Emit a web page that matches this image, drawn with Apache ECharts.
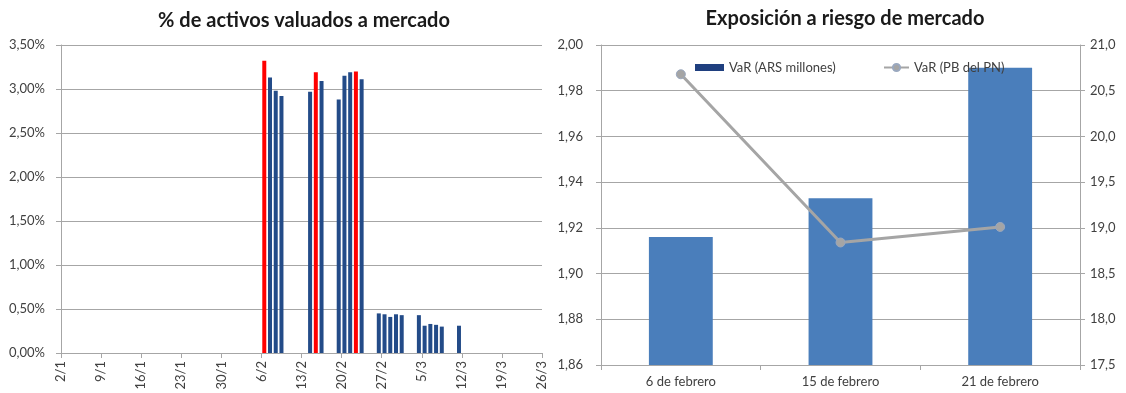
<!DOCTYPE html>
<html>
<head>
<meta charset="utf-8">
<script src="https://cdn.jsdelivr.net/npm/echarts@6/dist/echarts.min.js"></script>
<style>
  html, body { margin: 0; padding: 0; background: #fff; }
  #main { width: 1126px; height: 393px; }
</style>
</head>
<body>
<div id="main"></div>
<script>
// panel izquierdo: % de activos valuados a mercado (dias desde 2/1)
var startDate = new Date(2016, 0, 2);
var totalDays = 84;
var redDates = ['6/2', '15/2', '22/2'];
var redValues = [3.32, 3.19, 3.20];
var blueDates = ['7/2', '8/2', '9/2', '14/2', '16/2', '19/2', '20/2', '21/2', '23/2',
  '26/2', '27/2', '28/2', '29/2', '1/3', '4/3', '5/3', '6/3', '7/3', '8/3', '11/3'];
var blueValues = [3.13, 2.98, 2.92, 2.97, 3.09, 2.88, 3.15, 3.19, 3.11,
  0.45, 0.44, 0.41, 0.44, 0.43, 0.43, 0.31, 0.33, 0.32, 0.30, 0.31];

// panel derecho: exposicion a riesgo de mercado
var varCategories = ['6 de febrero', '15 de febrero', '21 de febrero'];
var varArs = [1.916, 1.933, 1.990];   // VaR (ARS millones)
var varPb = [20.68, 18.84, 19.01];    // VaR (PB del PN)

var FONT = 'Lato, "Liberation Sans", sans-serif';
var TXT = '#404040';
var GRID = '#A6A6A6';

// dia del eje -> indice desde 2/1 (las barras van entre marcas, como en Excel)
function dayIndex(s) {
  var p = s.split('/');
  var d = new Date(2016, parseInt(p[1], 10) - 1, parseInt(p[0], 10));
  return Math.round((d - startDate) / 864e5);
}
function toPairs(dates, values) {
  var out = [];
  for (var i = 0; i < dates.length; i++) {
    out.push([dayIndex(dates[i]) + 0.5, values[i]]);
  }
  return out;
}
function dayLabel(v) {
  var d = new Date(2016, 0, 2 + Math.round(v));
  return d.getDate() + '/' + (d.getMonth() + 1);
}

var myChart = echarts.init(document.getElementById('main'));
var option = {
  backgroundColor: '#fff',
  animation: false,
  textStyle: { fontFamily: FONT },
  title: [
    {
      text: '% de activos valuados a mercado',
      left: 299, top: 6, textAlign: 'center',
      textStyle: { fontFamily: FONT, fontSize: 20, fontWeight: 'bold', color: '#1a1a1a' }
    },
    {
      text: 'Exposición a riesgo de mercado',
      left: 840, top: 4, textAlign: 'center',
      textStyle: { fontFamily: FONT, fontSize: 20, fontWeight: 'bold', color: '#1a1a1a' }
    }
  ],
  legend: [
    {
      left: 690, top: 56,
      itemWidth: 29, itemHeight: 7, itemGap: 4,
      textStyle: { fontFamily: FONT, fontSize: 13, color: TXT },
      data: [{ name: 'VaR (ARS millones)', icon: 'rect', itemStyle: { color: '#1F3F7F' } }]
    },
    {
      left: 878, top: 56,
      itemWidth: 25, itemHeight: 9,
      textStyle: { fontFamily: FONT, fontSize: 13, color: TXT },
      data: ['VaR (PB del PN)']
    }
  ],
  grid: [
    { left: 61, right: 584, top: 45, bottom: 40 },
    { left: 601, right: 46, top: 45, bottom: 28 }
  ],
  xAxis: [
    {
      gridIndex: 0,
      type: 'value',
      min: 0, max: totalDays, interval: 7,
      splitLine: { show: false },
      axisLine: { show: true, lineStyle: { color: GRID } },
      axisTick: { show: true, length: 5, lineStyle: { color: GRID } },
      axisLabel: {
        rotate: 90, margin: 8,
        fontFamily: FONT, fontSize: 13, color: TXT,
        formatter: dayLabel
      }
    },
    {
      gridIndex: 1,
      type: 'category',
      data: varCategories,
      axisLine: { lineStyle: { color: GRID } },
      axisTick: { show: true, length: 5, lineStyle: { color: GRID } },
      axisLabel: { margin: 10, fontFamily: FONT, fontSize: 13, color: TXT }
    }
  ],
  yAxis: [
    {
      gridIndex: 0,
      type: 'value',
      min: 0, max: 3.5, interval: 0.5,
      axisLine: { show: true, lineStyle: { color: GRID } },
      axisTick: { show: true, length: 5, lineStyle: { color: GRID } },
      splitLine: { lineStyle: { color: GRID } },
      axisLabel: {
        margin: 16, fontFamily: FONT, fontSize: 13, color: TXT,
        formatter: function (v) { return v.toFixed(2).replace('.', ',') + '%'; }
      }
    },
    {
      gridIndex: 1,
      type: 'value',
      min: 1.86, max: 2.0, interval: 0.02,
      axisLine: { show: true, lineStyle: { color: GRID } },
      axisTick: { show: true, length: 5, lineStyle: { color: GRID } },
      splitLine: { lineStyle: { color: GRID } },
      axisLabel: {
        margin: 18, fontFamily: FONT, fontSize: 13, color: TXT,
        formatter: function (v) { return v.toFixed(2).replace('.', ','); }
      }
    },
    {
      gridIndex: 1,
      type: 'value',
      position: 'right',
      min: 17.5, max: 21.0, interval: 0.5,
      axisLine: { show: true, lineStyle: { color: GRID } },
      axisTick: { show: true, length: 5, lineStyle: { color: GRID } },
      splitLine: { show: false },
      axisLabel: {
        margin: 10, fontFamily: FONT, fontSize: 13, color: TXT,
        formatter: function (v) { return v.toFixed(1).replace('.', ','); }
      }
    }
  ],
  series: [
    {
      name: 'azul',
      type: 'bar',
      xAxisIndex: 0, yAxisIndex: 0,
      barWidth: 4, barGap: '-100%',
      itemStyle: { color: '#234B88' },
      data: toPairs(blueDates, blueValues)
    },
    {
      name: 'rojo',
      type: 'bar',
      xAxisIndex: 0, yAxisIndex: 0,
      barWidth: 4, barGap: '-100%',
      itemStyle: { color: '#FF0000' },
      data: toPairs(redDates, redValues)
    },
    {
      name: 'VaR (ARS millones)',
      type: 'bar',
      xAxisIndex: 1, yAxisIndex: 1,
      barWidth: '40%',
      itemStyle: { color: '#4A7EBB' },
      data: varArs
    },
    {
      name: 'VaR (PB del PN)',
      type: 'line',
      xAxisIndex: 1, yAxisIndex: 2,
      symbol: 'circle', symbolSize: 9,
      lineStyle: { color: '#A5A5A5', width: 3 },
      itemStyle: { color: '#A5A5A5', borderColor: '#9AA8BF', borderWidth: 1 },
      data: varPb
    }
  ]
};
myChart.setOption(option);
</script>
</body>
</html>
